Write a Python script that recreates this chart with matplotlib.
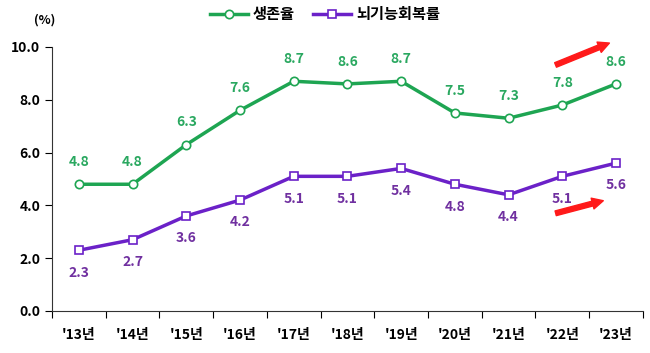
import matplotlib.pyplot as plt
import numpy as np

plt.rcParams['font.family'] = ['Noto Sans CJK KR', 'DejaVu Sans']

years = ["'13년", "'14년", "'15년", "'16년", "'17년", "'18년", "'19년", "'20년", "'21년", "'22년", "'23년"]
survival = [4.8, 4.8, 6.3, 7.6, 8.7, 8.6, 8.7, 7.5, 7.3, 7.8, 8.6]
recovery = [2.3, 2.7, 3.6, 4.2, 5.1, 5.1, 5.4, 4.8, 4.4, 5.1, 5.6]

green = '#1ea552'
purple = '#6b21c8'

fig = plt.figure(figsize=(6.5, 3.53), dpi=100)
ax = fig.add_axes([0.08, 0.119, 0.909, 0.748])

x = np.arange(len(years))
ax.plot(x, survival, color=green, lw=2.5, marker='o', ms=6, mfc='white', mec=green, mew=1.2, label='생존율')
ax.plot(x, recovery, color=purple, lw=2.5, marker='s', ms=6, mfc='white', mec=purple, mew=1.2, label='뇌기능회복률')

for i in x:
    ax.annotate(f'{survival[i]:.1f}', (i, survival[i]), xytext=(0, 11), textcoords='offset points',
                ha='center', va='bottom', color='#2aa860', fontsize=10, fontweight='bold')
    ax.annotate(f'{recovery[i]:.1f}', (i, recovery[i]), xytext=(0, -11), textcoords='offset points',
                ha='center', va='top', color='#7030a0', fontsize=10, fontweight='bold')

ax.set_xlim(-0.5, len(years) - 0.5)
ax.set_ylim(0, 10)
ax.set_yticks([0, 2, 4, 6, 8, 10])
ax.set_yticklabels([f'{v:.1f}' for v in [0, 2, 4, 6, 8, 10]], fontsize=10, fontweight='bold')
ax.set_xticks(np.arange(len(years) + 1) - 0.5)
ax.set_xticklabels([])
ax.set_xticks(x, minor=True)
ax.set_xticklabels(years, minor=True, fontsize=10, fontweight='bold')
ax.tick_params(axis='x', which='minor', length=0, pad=12)
ax.tick_params(axis='x', which='major', length=5, direction='out')
ax.tick_params(axis='y', length=5, direction='out')
for s in ['top', 'right']:
    ax.spines[s].set_visible(False)
for s in ['left', 'bottom']:
    ax.spines[s].set_color('#333333')

fig.text(45 / 650, 1 - 20 / 353, '(%)', ha='center', va='center', fontsize=9, fontweight='bold')

fig.legend(loc='center', bbox_to_anchor=(0.5, 1 - 14 / 353), ncol=2, frameon=False,
           prop={'size': 11, 'weight': 'bold'}, handlelength=2.5, columnspacing=1.2, handletextpad=0.3)

# red trend arrows
for tail, head in [((553, 66), (612, 42)), ((553, 214), (606, 200))]:
    fig.add_artist(plt.matplotlib.patches.FancyArrowPatch(
        (tail[0] / 650, 1 - tail[1] / 353), (head[0] / 650, 1 - head[1] / 353),
        transform=fig.transFigure, arrowstyle='simple,head_width=8,head_length=8,tail_width=3.5',
        color='#ff1a1a', mutation_scale=1))

fig.savefig('out.png', dpi=100)
